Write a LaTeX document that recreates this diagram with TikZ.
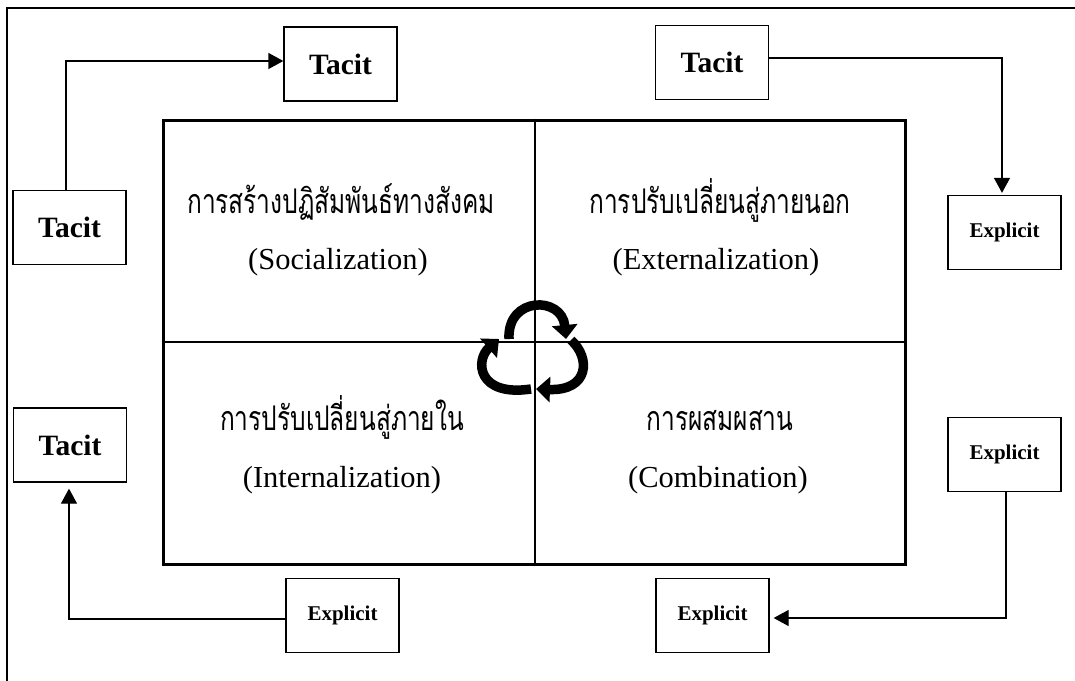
\documentclass[tikz,border=0pt]{standalone}
\usepackage{fontspec}
\setmainfont{Liberation Serif}
\newfontfamily\thaifont[Script=Thai,FakeStretch=0.72]{Loma}
\usetikzlibrary{arrows.meta,calc}

\begin{document}
\begin{tikzpicture}[x=1pt,y=-1pt,
  kbox/.style={draw, line width=1.3pt, minimum width=113pt, minimum height=74pt, inner sep=0pt},
  tacit/.style={kbox, font=\fontsize{29.5}{32}\selectfont\bfseries},
  explicit/.style={kbox, font=\fontsize{21}{24}\selectfont\bfseries},
  conn/.style={line width=1.3pt, -{Triangle[length=15pt,width=16pt]}},
  frame/.style={line width=2.5pt},
  gridbox/.style={draw, line width=3pt, minimum width=742pt, minimum height=444pt, inner sep=0pt},
  divider/.style={line width=2.3pt},
  thailabel/.style={anchor=base, inner sep=0pt, font=\thaifont\fontsize{34}{38}\selectfont},
  englabel/.style={anchor=base, inner sep=0pt, font=\fontsize{30.5}{34}\selectfont},
  cyc/.style={line width=9.5pt, -{Triangle[length=14pt,width=25pt]}}
]
\useasboundingbox (0,0) rectangle (1075,680);
\clip (0,0) rectangle (1075,680);

% page frame (right and bottom edges run off the page)
\coordinate (fa) at (7,700);
\coordinate (fb) at (7,8);
\coordinate (fc) at (1100,8);
\draw[frame] (fa) -- (fb) -- (fc);

% the four-mode matrix
\node[gridbox] (grid) at (534,342) {};
\draw[divider] (grid.north -| 535,0) -- (grid.south -| 535,0);
\draw[divider] (grid.west |- 0,342) -- (grid.east |- 0,342);

\node[thailabel] (soc)  at (341,213) {การสร้างปฏิสัมพันธ์ทางสังคม};
\node[englabel]  (soce) at (338,269) {(Socialization)};
\node[thailabel] (ext)  at (720,213) {การปรับเปลี่ยนสู่ภายนอก};
\node[englabel]  (exte) at (716,269) {(Externalization)};
\node[thailabel] (int)  at (342,430) {การปรับเปลี่ยนสู่ภายใน};
\node[englabel]  (inte) at (342,487) {(Internalization)};
\node[thailabel] (com)  at (720,430) {การผสมผสาน};
\node[englabel]  (come) at (718,487) {(Combination)};

% cycle symbol in the centre
\draw[cyc] (509,339) .. controls (507,296) and (562,296) .. (566,339);
\draw[cyc] (571,340) .. controls (591,358) and (589,391) .. (536,389);
\draw[cyc] (531,389) .. controls (477,397) and (475,360) .. (499,339);

% knowledge boxes
\node[tacit] (tl)  at (69.5,227.5) {Tacit};
\node[tacit] (tt)  at (340.5,64) {Tacit};
\node[tacit] (ttr) at (712,62.5) {Tacit};
\node[explicit] (ert) at (1004.5,232.5) {Explicit};
\node[tacit] (tlb) at (70,445) {Tacit};
\node[explicit] (ebl) at (342.5,615.5) {Explicit};
\node[explicit] (erb) at (1004.5,454.5) {Explicit};
\node[explicit] (ebr) at (712.5,615.5) {Explicit};

% conversions
\draw[conn] ([xshift=-3.5pt]tl.north) |- ([yshift=3pt]tt.west);
\draw[conn, shorten >=2pt] ([yshift=4.5pt]ttr.east) -| ([xshift=-2.5pt]ert.north);
\draw[conn, shorten >=6pt] ([yshift=-3.5pt]ebl.west) -| ([xshift=-1pt]tlb.south);
\draw[conn, shorten >=4pt] ([xshift=1.5pt]erb.south) |- ([yshift=-2.5pt]ebr.east);
\end{tikzpicture}
\end{document}
